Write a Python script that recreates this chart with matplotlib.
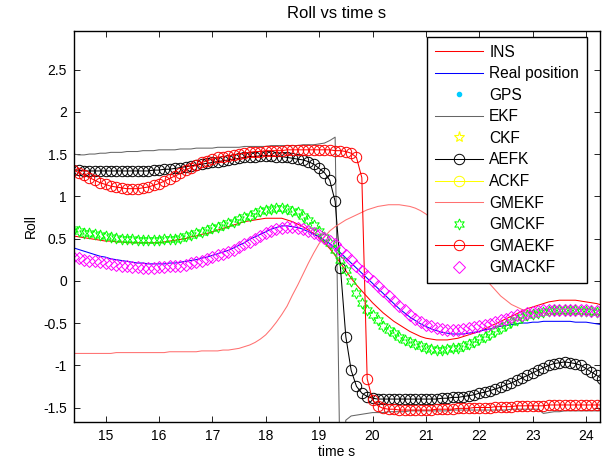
import numpy as np
import matplotlib
matplotlib.use('Agg')
import matplotlib.pyplot as plt
from matplotlib.ticker import FormatStrFormatter

plt.rcParams['font.family'] = ['Liberation Sans', 'DejaVu Sans']
plt.rcParams['font.size'] = 10
plt.rcParams['axes.unicode_minus'] = False

# sample times, 0.1 s step
t = np.round(np.arange(14.4, 24.35, 0.1), 1)

ins = [0.53, 0.52, 0.51, 0.50, 0.49, 0.48, 0.47, 0.47, 0.46, 0.46,
       0.45, 0.45, 0.45, 0.45, 0.45, 0.45, 0.45, 0.46, 0.47, 0.48,
       0.49, 0.50, 0.52, 0.53, 0.55, 0.56, 0.58, 0.60, 0.62, 0.64,
       0.66, 0.68, 0.70, 0.71, 0.72, 0.73, 0.74, 0.74, 0.74, 0.74,
       0.72, 0.70, 0.67, 0.64, 0.60, 0.56, 0.51, 0.45, 0.38, 0.30,
       0.21, 0.12, 0.03, -0.05, -0.12, -0.19, -0.26, -0.32, -0.38, -0.43,
       -0.48, -0.52, -0.56, -0.60, -0.63, -0.66, -0.68, -0.69, -0.70, -0.70,
       -0.70, -0.69, -0.68, -0.66, -0.64, -0.62, -0.60, -0.57, -0.54, -0.51,
       -0.48, -0.45, -0.42, -0.39, -0.36, -0.33, -0.31, -0.29, -0.27, -0.25,
       -0.24, -0.23, -0.23, -0.23, -0.23, -0.24, -0.25, -0.26, -0.27, -0.29]

real = [0.39, 0.37, 0.35, 0.33, 0.31, 0.29, 0.28, 0.26, 0.25, 0.24,
        0.23, 0.22, 0.21, 0.21, 0.20, 0.20, 0.20, 0.20, 0.21, 0.21,
        0.22, 0.23, 0.24, 0.25, 0.27, 0.28, 0.30, 0.32, 0.34, 0.36,
        0.39, 0.42, 0.45, 0.49, 0.52, 0.55, 0.58, 0.61, 0.63, 0.65,
        0.65, 0.64, 0.63, 0.61, 0.58, 0.55, 0.52, 0.48, 0.44, 0.39,
        0.33, 0.27, 0.21, 0.15, 0.09, 0.03, -0.03, -0.09, -0.15, -0.21,
        -0.27, -0.33, -0.38, -0.43, -0.47, -0.51, -0.54, -0.57, -0.59, -0.61,
        -0.62, -0.63, -0.63, -0.63, -0.62, -0.61, -0.60, -0.58, -0.57, -0.55,
        -0.54, -0.53, -0.52, -0.51, -0.50, -0.50, -0.49, -0.49, -0.48, -0.48,
        -0.48, -0.48, -0.48, -0.48, -0.49, -0.49, -0.49, -0.50, -0.51, -0.52]

ekf = [1.50, 1.49, 1.49, 1.50, 1.50, 1.51, 1.51, 1.52, 1.52, 1.52,
       1.53, 1.53, 1.53, 1.54, 1.54, 1.54, 1.55, 1.55, 1.55, 1.55,
       1.56, 1.56, 1.56, 1.57, 1.57, 1.57, 1.57, 1.58, 1.58, 1.58,
       1.58, 1.58, 1.59, 1.59, 1.59, 1.59, 1.59, 1.60, 1.60, 1.60,
       1.60, 1.60, 1.60, 1.61, 1.61, 1.61, 1.62, 1.63, 1.66, 1.70,
       -2.60, -1.65, -1.60, -1.59, -1.58, -1.57, -1.56, -1.56, -1.56, -1.55,
       -1.55, -1.55, -1.55, -1.54, -1.54, -1.54, -1.54, -1.54, -1.54, -1.54,
       -1.54, -1.53, -1.53, -1.53, -1.53, -1.53, -1.53, -1.53, -1.53, -1.53,
       -1.53, -1.53, -1.52, -1.52, -1.52, -1.52, -1.52, -1.52, -1.57, -1.56,
       -1.55, -1.55, -1.54, -1.54, -1.54, -1.54, -1.54, -1.54, -1.54, -1.54]

aefk = [1.31, 1.31, 1.30, 1.30, 1.30, 1.30, 1.30, 1.30, 1.30, 1.30,
        1.30, 1.30, 1.30, 1.30, 1.30, 1.31, 1.31, 1.32, 1.32, 1.33,
        1.34, 1.35, 1.36, 1.37, 1.38, 1.39, 1.40, 1.41, 1.42, 1.43,
        1.44, 1.45, 1.46, 1.47, 1.47, 1.48, 1.48, 1.48, 1.47, 1.47,
        1.46, 1.45, 1.44, 1.43, 1.41, 1.38, 1.33, 1.28, 1.19, 0.94,
        0.15, -0.66, -1.06, -1.25, -1.33, -1.37, -1.39, -1.40, -1.40, -1.40,
        -1.40, -1.40, -1.40, -1.40, -1.40, -1.40, -1.40, -1.40, -1.40, -1.39,
        -1.39, -1.38, -1.38, -1.37, -1.36, -1.35, -1.33, -1.32, -1.30, -1.28,
        -1.26, -1.23, -1.21, -1.18, -1.15, -1.12, -1.09, -1.06, -1.03, -1.00,
        -0.98, -0.97, -0.96, -0.97, -0.98, -1.00, -1.04, -1.08, -1.12, -1.16]

gmekf = [-0.86, -0.86, -0.86, -0.86, -0.86, -0.86, -0.86, -0.86, -0.85, -0.85,
         -0.85, -0.85, -0.85, -0.85, -0.85, -0.85, -0.85, -0.85, -0.84, -0.84,
         -0.84, -0.84, -0.84, -0.84, -0.83, -0.83, -0.83, -0.83, -0.82, -0.82,
         -0.81, -0.80, -0.78, -0.76, -0.73, -0.69, -0.64, -0.57, -0.49, -0.40,
         -0.30, -0.17, -0.05, 0.08, 0.21, 0.33, 0.44, 0.52, 0.59, 0.64,
         0.68, 0.72, 0.75, 0.78, 0.81, 0.84, 0.86, 0.88, 0.89, 0.90,
         0.90, 0.90, 0.89, 0.88, 0.86, 0.83, 0.79, 0.74, 0.69, 0.63,
         0.56, 0.49, 0.42, 0.35, 0.27, 0.19, 0.11, 0.04, -0.04, -0.11,
         -0.18, -0.23, -0.28, -0.31, -0.34, -0.36, -0.37, -0.38, -0.38, -0.39,
         -0.39, -0.39, -0.39, -0.39, -0.39, -0.39, -0.40, -0.40, -0.40, -0.40]

gmckf = [0.61, 0.59, 0.57, 0.56, 0.55, 0.54, 0.53, 0.52, 0.51, 0.50,
         0.49, 0.49, 0.48, 0.48, 0.48, 0.48, 0.48, 0.49, 0.49, 0.50,
         0.51, 0.53, 0.54, 0.56, 0.58, 0.60, 0.62, 0.64, 0.66, 0.68,
         0.70, 0.73, 0.75, 0.77, 0.80, 0.82, 0.84, 0.85, 0.86, 0.86,
         0.85, 0.83, 0.81, 0.77, 0.72, 0.66, 0.59, 0.52, 0.45, 0.36,
         0.25, 0.13, 0.00, -0.14, -0.26, -0.35, -0.41, -0.47, -0.53, -0.58,
         -0.62, -0.66, -0.70, -0.73, -0.75, -0.77, -0.79, -0.81, -0.82, -0.82,
         -0.81, -0.80, -0.79, -0.77, -0.75, -0.72, -0.69, -0.66, -0.63, -0.60,
         -0.56, -0.52, -0.49, -0.46, -0.43, -0.41, -0.39, -0.38, -0.37, -0.36,
         -0.35, -0.35, -0.35, -0.35, -0.35, -0.36, -0.36, -0.36, -0.37, -0.37]

gmaekf = [1.31, 1.28, 1.25, 1.22, 1.19, 1.16, 1.14, 1.12, 1.11, 1.10,
          1.09, 1.09, 1.09, 1.10, 1.11, 1.13, 1.15, 1.18, 1.21, 1.24,
          1.27, 1.31, 1.34, 1.37, 1.40, 1.42, 1.44, 1.46, 1.47, 1.48,
          1.49, 1.50, 1.51, 1.52, 1.53, 1.53, 1.54, 1.54, 1.54, 1.54,
          1.55, 1.55, 1.55, 1.55, 1.55, 1.55, 1.55, 1.55, 1.55, 1.54,
          1.54, 1.53, 1.51, 1.46, 1.22, -1.16, -1.41, -1.48, -1.51, -1.52,
          -1.52, -1.53, -1.53, -1.53, -1.53, -1.53, -1.53, -1.53, -1.52, -1.52,
          -1.52, -1.52, -1.51, -1.51, -1.51, -1.50, -1.50, -1.50, -1.50, -1.49,
          -1.49, -1.49, -1.49, -1.48, -1.48, -1.48, -1.48, -1.48, -1.48, -1.47,
          -1.47, -1.47, -1.47, -1.47, -1.47, -1.47, -1.47, -1.47, -1.47, -1.47]

gmackf = [0.28, 0.27, 0.25, 0.24, 0.23, 0.22, 0.21, 0.20, 0.19, 0.18,
          0.17, 0.16, 0.16, 0.15, 0.15, 0.15, 0.16, 0.16, 0.17, 0.17,
          0.18, 0.19, 0.21, 0.22, 0.24, 0.26, 0.28, 0.30, 0.32, 0.34,
          0.37, 0.40, 0.43, 0.46, 0.50, 0.53, 0.56, 0.59, 0.61, 0.63,
          0.64, 0.64, 0.63, 0.61, 0.59, 0.57, 0.54, 0.51, 0.47, 0.43,
          0.37, 0.31, 0.25, 0.18, 0.12, 0.06, 0.00, -0.06, -0.12, -0.18,
          -0.24, -0.30, -0.35, -0.40, -0.45, -0.49, -0.52, -0.54, -0.56, -0.57,
          -0.58, -0.58, -0.58, -0.57, -0.56, -0.55, -0.54, -0.52, -0.51, -0.49,
          -0.47, -0.45, -0.43, -0.41, -0.40, -0.38, -0.37, -0.36, -0.35, -0.35,
          -0.35, -0.34, -0.34, -0.34, -0.35, -0.35, -0.35, -0.36, -0.36, -0.37]

fig = plt.figure(figsize=(6.06, 4.63), dpi=100)
ax = fig.add_axes([74 / 606, 1 - 421.7 / 463, (600 - 74) / 606, (421.7 - 30.7) / 463])

lw = 0.75
hexagram = (6, 1, 0)
ax.plot(t, ins, color='#ff0000', lw=lw, label='INS')
ax.plot(t, real, color='#0000ff', lw=lw, label='Real position')
ax.plot([], [], ls='none', marker='.', color='#00ccff', ms=6, label='GPS')
ax.plot(t, ekf, color='#666666', lw=lw, label='EKF')
ax.plot([], [], ls='none', marker='*', mfc='none', mec='#ffff00', ms=8, mew=0.8, label='CKF')
ax.plot(t, aefk, color='black', lw=lw, marker='o', mfc='none', ms=7.5, mew=0.7, label='AEFK')
ax.plot([], [], color='#ffff00', lw=lw, marker='o', mfc='none', ms=7.5, mew=0.7, label='ACKF')
ax.plot(t, gmekf, color='#ff7070', lw=lw, label='GMEKF')
ax.plot(t, gmckf, ls='none', marker=hexagram, mfc='none', mec='#00ff00', ms=8, mew=0.7, label='GMCKF')
ax.plot(t, gmaekf, color='#ff0000', lw=lw, marker='o', mfc='none', ms=7.5, mew=0.7, label='GMAEKF')
ax.plot(t, gmackf, ls='none', marker='D', mfc='none', mec='#ff00ff', ms=6, mew=0.7, label='GMACKF')

ax.set_xlim(14.41, 24.26)
ax.set_ylim(-1.668, 2.96)
ax.set_xticks(np.arange(15, 25))
ax.set_yticks(np.arange(-1.5, 2.6, 0.5))
ax.yaxis.set_major_formatter(FormatStrFormatter('%g'))
ax.tick_params(direction='in', top=True, right=True, length=4, width=0.6, pad=5)
for s in ax.spines.values():
    s.set_linewidth(1.0)

ax.set_title('Roll vs time s', pad=9)
ax.set_xlabel('time s', labelpad=2)
ax.set_ylabel('Roll', labelpad=4)

leg = ax.legend(loc='upper left', bbox_to_anchor=(427 / 606, 1 - 37 / 463),
                bbox_transform=fig.transFigure, fancybox=False, framealpha=1,
                edgecolor='black', numpoints=1, fontsize=11.2, handlelength=3.1,
                handletextpad=0.4, labelspacing=0.42, borderpad=0.5,
                borderaxespad=0)
leg.get_frame().set_linewidth(1.0)

fig.savefig('out.png', dpi=100)
